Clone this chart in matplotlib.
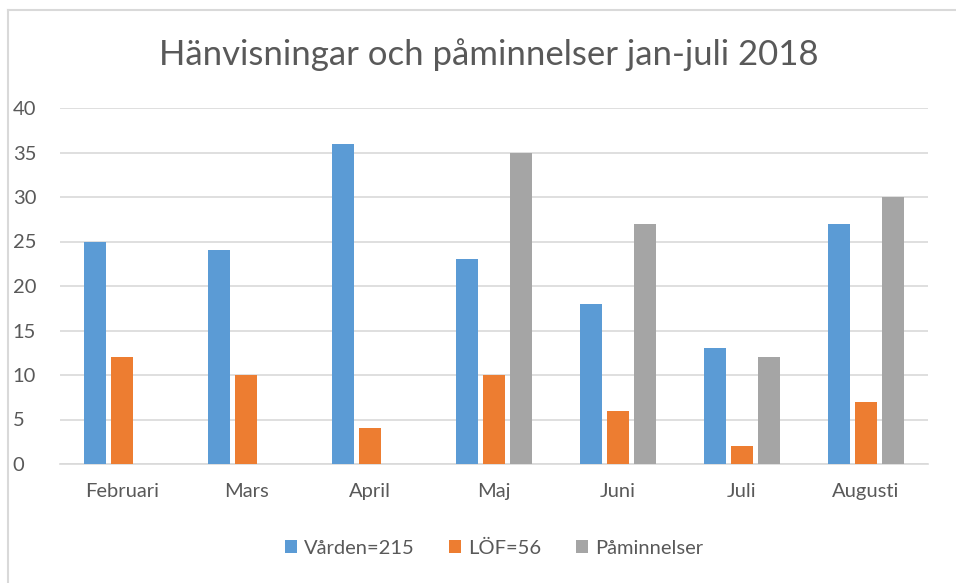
import matplotlib
matplotlib.use("Agg")
import matplotlib.pyplot as plt
from matplotlib.lines import Line2D
import numpy as np

categories = ["Februari", "Mars", "April", "Maj", "Juni", "Juli", "Augusti"]
varden = [25, 24, 36, 23, 18, 13, 27]
lof = [12, 10, 4, 10, 6, 2, 7]
paminnelser = [0, 0, 0, 35, 27, 12, 30]
series_names = ["Vården=215", "LÖF=56", "Påminnelser"]
colors = ["#5B9BD5", "#ED7D31", "#A5A5A5"]
title = "Hänvisningar och påminnelser jan-juli 2018"

plt.rcParams['font.family'] = ['Lato', 'DejaVu Sans']
text_color = "#595959"

fig = plt.figure(figsize=(9.56, 5.83), dpi=100)
W, H = 956, 583
ax = fig.add_axes([60 / W, 1 - 464 / H, (928 - 60) / W, (464 - 108) / H])

x = np.arange(len(categories))
width = 0.18
offsets = [-0.22, 0.0, 0.22]
for vals, off, c, name in zip([varden, lof, paminnelser], offsets, colors, series_names):
    ax.bar(x + off, vals, width, color=c, label=name, zorder=3)

ax.set_xlim(-0.5, len(categories) - 0.5)
ax.set_ylim(0, 40)
ax.set_yticks(range(0, 41, 5))
ax.yaxis.grid(True, color="#D9D9D9", linewidth=1.2, zorder=0)
ax.set_xticks(x)
ax.set_xticklabels(categories)
for s in ["top", "right", "left"]:
    ax.spines[s].set_visible(False)
ax.spines["bottom"].set_color("#D9D9D9")
ax.spines["bottom"].set_linewidth(1.2)
ax.tick_params(axis="both", length=0, colors=text_color, labelsize=14.5)
ax.tick_params(axis="x", pad=14)
ax.tick_params(axis="y", pad=34)
for lbl in ax.get_yticklabels():
    lbl.set_horizontalalignment("left")

fig.text(489 / W, 1 - 55 / H, title, ha="center", va="center", fontsize=25, color=text_color)

leg = fig.legend(loc="center", bbox_to_anchor=(494 / W, 1 - 548 / H), ncol=3, frameon=False,
                 fontsize=14.5, handlelength=0.6, handleheight=0.6, handletextpad=0.35,
                 columnspacing=1.7)
for t in leg.get_texts():
    t.set_color(text_color)

fig.add_artist(Line2D([7.5 / W, 7.5 / W], [0, 1 - 10 / H], transform=fig.transFigure, color="#D9D9D9", lw=1.5))
fig.add_artist(Line2D([7.5 / W, 1], [1 - 10 / H, 1 - 10 / H], transform=fig.transFigure, color="#D9D9D9", lw=1.5))

fig.savefig("out.png", dpi=100)
